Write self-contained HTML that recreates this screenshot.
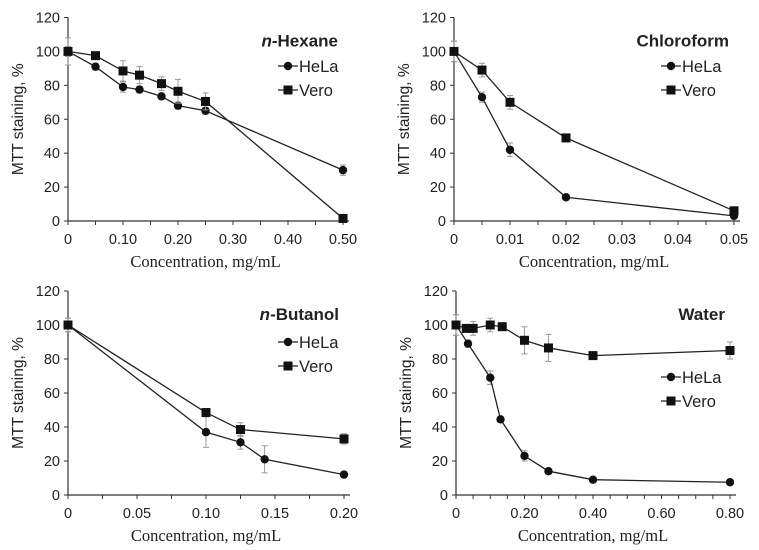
<!DOCTYPE html>
<html><head><meta charset="utf-8"><style>
body{margin:0;background:#fff;width:759px;height:550px;overflow:hidden}
svg{display:block}
text{fill:#222}
.t{font-family:"Liberation Sans",Arial,sans-serif;font-size:14.5px}
.xt{font-family:"Liberation Serif",serif;font-size:16.5px}
.ti{font-family:"Liberation Sans",Arial,sans-serif;font-size:17px;font-weight:bold}
</style></head><body>
<svg id="c" width="759" height="550"></svg>
<script>
// Hexane panel
const hexHelaX=[0,0.05,0.10,0.13,0.17,0.20,0.25,0.50];
const hexHelaY=[100,91,79,77.5,73.5,68,65,30];
const hexHelaE=[3,2,3,2,2,2,2,3];
const hexVeroX=[0,0.05,0.10,0.13,0.17,0.20,0.25,0.50];
const hexVeroY=[100,97.5,88.5,86,81,76.5,70.5,1.5];
const hexVeroE=[8,2,6,5,4,7,5,1];
const hexTicks=["0","0.10","0.20","0.30","0.40","0.50"];
const hexTickVals=[0,0.1,0.2,0.3,0.4,0.5];
// Chloroform panel
const chlHelaX=[0,0.005,0.01,0.02,0.05];
const chlHelaY=[100,73,42,14,3];
const chlHelaE=[6,3,4,1,1];
const chlVeroX=[0,0.005,0.01,0.02,0.05];
const chlVeroY=[100,89,70,49,6];
const chlVeroE=[6,4,4,1,1];
const chlTicks=["0","0.01","0.02","0.03","0.04","0.05"];
const chlTickVals=[0,0.01,0.02,0.03,0.04,0.05];
// Butanol panel
const butHelaX=[0,0.10,0.125,0.1425,0.20];
const butHelaY=[100,37,31,21,12];
const butHelaE=[4,9,4,8,1];
const butVeroX=[0,0.10,0.125,0.20];
const butVeroY=[100,48.5,38.5,33];
const butVeroE=[4,2,4,3];
const butTicks=["0","0.05","0.10","0.15","0.20"];
const butTickVals=[0,0.05,0.1,0.15,0.2];
// Water panel
const watHelaX=[0,0.035,0.10,0.13,0.20,0.27,0.40,0.80];
const watHelaY=[100,89,69,44.5,23,14,9,7.5];
const watHelaE=[6,2,4,1,3,1,1,1];
const watVeroX=[0,0.03,0.05,0.10,0.135,0.20,0.27,0.40,0.80];
const watVeroY=[100,98,98,100,99,91,86.5,82,85];
const watVeroE=[6,2,4,4,1,8,8,2,5];
const watTicks=["0","0.20","0.40","0.60","0.80"];
const watTickVals=[0,0.2,0.4,0.6,0.8];
const yTicks=[0,20,40,60,80,100,120];

const svg=document.getElementById('c');
const NS='http://www.w3.org/2000/svg';
function mk(tag,at,parent){const e=document.createElementNS(NS,tag);for(const k in at)e.setAttribute(k,at[k]);(parent||svg).appendChild(e);return e;}

function panel(p){
  const g=mk('g',{});
  
  
  const sx=v=>p.x0+(v-0)/(p.xmax)*(p.x1-p.x0);
  const sy=v=>p.y0-(v/120)*(p.y0-p.y1);
  const ax=mk('path',{d:`M${p.x0} ${p.y1}V${p.y0}H${p.x1+6}`,stroke:'#333',fill:'none','stroke-width':1.2},g);
  
  
  yTicks.forEach(t=>{
    mk('line',{x1:p.x0-4,x2:p.x0,y1:sy(t),y2:sy(t),stroke:'#333'},g);
    const tx=mk('text',{x:p.x0-8,y:sy(t)+5,'text-anchor':'end',class:'t'},g);
    tx.textContent=t;
    
    
  });
  for(let v=0;v<=p.xmax+1e-9;v+=p.minor){mk('line',{x1:sx(v),x2:sx(v),y1:p.y0,y2:p.y0+4,stroke:'#333'},g);}
  p.ticks.forEach((t,i)=>{
    const tx=mk('text',{x:sx(p.tickVals[i]),y:p.y0+23,'text-anchor':'middle',class:'t'},g);
    tx.textContent=t;
    
    
  });
  const xt=mk('text',{x:(p.x0+p.x1)/2,y:p.y0+46,'text-anchor':'middle',class:'xt'},g);
  xt.textContent='Concentration, mg/mL';
  
  
  const yt=mk('text',{transform:`translate(${p.x0-45},${(p.y0+p.y1)/2}) rotate(-90)`,'text-anchor':'middle',class:'t',style:'font-size:15.5px'},g);
  yt.textContent='MTT staining, %';
  
  
  const ti=mk('text',{x:p.x1-5,y:p.y1+29,'text-anchor':'end',class:'ti'},g);
  if(p.italic){const a=mk('tspan',{'font-style':'italic'},ti);a.textContent='n';const b=mk('tspan',{},ti);b.textContent='-'+p.title;}
  else ti.textContent=p.title;
  
  
  function series(X,Y,E,sq,nm){
    const sg=mk('g',{},g);
    
    
    X.forEach((x,i)=>{mk('path',{d:`M${sx(x)-3} ${sy(Y[i]+E[i])}h6M${sx(x)} ${sy(Y[i]+E[i])}V${sy(Y[i]-E[i])}M${sx(x)-3} ${sy(Y[i]-E[i])}h6`,stroke:'#999','stroke-width':1,fill:'none'},sg);});
    const ln=mk('polyline',{points:X.map((x,i)=>sx(x)+','+sy(Y[i])).join(' '),fill:'none',stroke:'#222','stroke-width':1.3},sg);
    
    
    X.forEach((x,i)=>{
      const m=sq?mk('rect',{x:sx(x)-4.5,y:sy(Y[i])-4.5,width:9,height:9,fill:'#111'},sg):mk('circle',{cx:sx(x),cy:sy(Y[i]),r:4.2,fill:'#111'},sg);
      
      
    });
  }
  series(p.hx,p.hy,p.he,false,'hela');
  series(p.vx,p.vy,p.ve,true,'vero');
  [['HeLa',false,0],['Vero',true,1]].forEach(([lab,sq,k])=>{
    const lg=mk('g',{},g);
    
    
    const ly=p.ly+k*24, lx=p.lx;
    mk('line',{x1:lx,x2:lx+20,y1:ly,y2:ly,stroke:'#222','stroke-width':1.3},lg);
    if(sq)mk('rect',{x:lx+5.5,y:ly-4.5,width:9,height:9,fill:'#111'},lg);else mk('circle',{cx:lx+10,cy:ly,r:4.2,fill:'#111'},lg);
    const t=mk('text',{x:lx+21,y:ly+6,class:'t',style:'font-size:16.5px'},lg);t.textContent=lab;
  });
}
panel({name:'hexane',title:'Hexane',italic:true,x0:68,x1:343,y0:221,y1:17.5,xmax:0.5,minor:0.05,ticks:hexTicks,tickVals:hexTickVals,hx:hexHelaX,hy:hexHelaY,he:hexHelaE,vx:hexVeroX,vy:hexVeroY,ve:hexVeroE,lx:278,ly:66});
panel({name:'chloroform',title:'Chloroform',italic:false,x0:454,x1:734,y0:221,y1:17.5,xmax:0.05,minor:0.005,ticks:chlTicks,tickVals:chlTickVals,hx:chlHelaX,hy:chlHelaY,he:chlHelaE,vx:chlVeroX,vy:chlVeroY,ve:chlVeroE,lx:661,ly:66});
panel({name:'butanol',title:'Butanol',italic:true,x0:68,x1:344,y0:495,y1:291,xmax:0.2,minor:0.025,ticks:butTicks,tickVals:butTickVals,hx:butHelaX,hy:butHelaY,he:butHelaE,vx:butVeroX,vy:butVeroY,ve:butVeroE,lx:278,ly:342});
panel({name:'water',title:'Water',italic:false,x0:456,x1:730,y0:495,y1:291,xmax:0.8,minor:0.05,ticks:watTicks,tickVals:watTickVals,hx:watHelaX,hy:watHelaY,he:watHelaE,vx:watVeroX,vy:watVeroY,ve:watVeroE,lx:661,ly:377});
</script>
</body></html>
